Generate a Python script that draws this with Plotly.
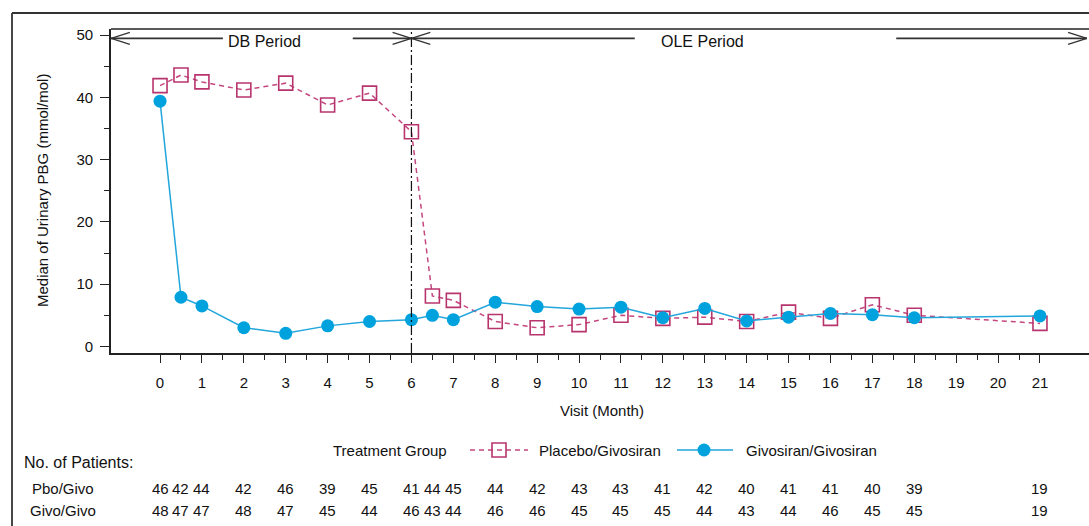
import plotly.graph_objects as go

# ---------------- data ----------------
visits = [0, 0.5, 1, 2, 3, 4, 5, 6, 6.5, 7, 8, 9, 10, 11, 12, 13, 14, 15, 16, 17, 18, 21]
placebo_median = [41.9, 43.6, 42.5, 41.2, 42.3, 38.8, 40.7, 34.5, 8.1, 7.4, 4.0, 3.0, 3.5,
                  5.0, 4.5, 4.7, 4.0, 5.5, 4.5, 6.7, 5.0, 3.7]
givo_median = [39.4, 7.9, 6.5, 3.0, 2.1, 3.3, 4.0, 4.3, 5.0, 4.3, 7.1, 6.4, 6.0, 6.3,
               4.6, 6.1, 4.1, 4.7, 5.3, 5.1, 4.6, 4.9]
pbo_n = [46, 42, 44, 42, 46, 39, 45, 41, 44, 45, 44, 42, 43, 43, 41, 42, 40, 41, 41, 40, 39, 19]
givo_n = [48, 47, 47, 48, 47, 45, 44, 46, 43, 44, 46, 46, 45, 45, 45, 44, 43, 44, 46, 45, 45, 19]
x_tick_vals = list(range(0, 22))
y_tick_vals = [0, 10, 20, 30, 40, 50]
series_names = ["Placebo/Givosiran", "Givosiran/Givosiran"]
row_labels = ["Pbo/Givo", "Givo/Givo"]

# ---------------- styles ----------------
FONT = "Liberation Sans, Arial, sans-serif"
FS = 15
PINK = "#B8346D"
PINK_LINE = "#C4477F"
BLUE = "#00A2DE"
BLUE_LINE = "#22A6DC"
AX = "#222222"
TXT = "#111111"

W, H = 1089, 526
ML, MR, MT, MB = 111, 0, 29, 173
PW = W - ML - MR
PH = H - MT - MB


def px_x(p):
    return (p - ML) / PW


def px_y(p):
    return (H - MB - p) / PH


def txt(text, x, y, xref="paper", yref="paper", xanchor="center", size=FS, angle=0):
    return dict(text=text, x=x, y=y, xref=xref, yref=yref, xanchor=xanchor, yanchor="middle",
                showarrow=False, textangle=angle, font=dict(size=size, color=TXT, family=FONT))


XR = [-1.17, 22.17]
YR = [-1.06, 51.0]

fig = go.Figure()
fig.add_trace(go.Scatter(
    x=visits, y=placebo_median, name=series_names[0], mode="lines+markers",
    line=dict(color=PINK_LINE, width=1.5, dash="5px,4px"),
    marker=dict(symbol="square-open", size=14, color=PINK, line=dict(width=1.6, color=PINK)),
    showlegend=False, cliponaxis=False))
fig.add_trace(go.Scatter(
    x=visits, y=givo_median, name=series_names[1], mode="lines+markers",
    line=dict(color=BLUE_LINE, width=1.5),
    marker=dict(symbol="circle", size=13, color=BLUE),
    showlegend=False, cliponaxis=False))

shapes = []
# vertical separator at month 6
shapes.append(dict(type="line", xref="x", yref="y", x0=6, x1=6, y0=YR[0], y1=YR[1],
                   line=dict(color="#111", width=1.2, dash="10px,3px,2px,3px")))

# period arrows
PY = 49.5
AL, AH = 0.45, 0.96
left_edge, right_tip = XR[0], 22.12
segs = [
    (left_edge, 1.5), (4.6, 6.0),        # DB period
    (6.0, 11.33), (17.57, right_tip),    # OLE period
]
for a, b in segs:
    shapes.append(dict(type="line", xref="x", yref="y", x0=a, x1=b, y0=PY, y1=PY,
                       line=dict(color="#333", width=1.6)))
for tip, d in [(left_edge, -1), (6.0, 1), (6.0, -1), (right_tip, 1)]:
    for s in (1, -1):
        shapes.append(dict(type="line", xref="x", yref="y", x0=tip, y0=PY,
                           x1=tip - d * AL, y1=PY + s * AH,
                           line=dict(color="#333", width=1.3)))

# top border of plot
shapes.append(dict(type="line", xref="paper", yref="paper", x0=0, x1=1.02, y0=1, y1=1,
                   line=dict(color=AX, width=1.6)))
# outer frame (left + top)
shapes.append(dict(type="line", xref="paper", yref="paper", x0=px_x(12), x1=px_x(12),
                   y0=px_y(13), y1=px_y(560), line=dict(color="#333", width=1.8)))
shapes.append(dict(type="line", xref="paper", yref="paper", x0=px_x(12), x1=px_x(1100),
                   y0=px_y(13), y1=px_y(13), line=dict(color="#333", width=1.8)))

# legend symbols
LY = px_y(450)
shapes.append(dict(type="line", xref="paper", yref="paper", x0=px_x(470), x1=px_x(528),
                   y0=LY, y1=LY, line=dict(color=PINK_LINE, width=1.5, dash="5px,4px")))
shapes.append(dict(type="rect", xref="paper", yref="paper", xsizemode="pixel", ysizemode="pixel",
                   xanchor=px_x(499), yanchor=LY, x0=-7, x1=7, y0=-7, y1=7,
                   line=dict(color=PINK, width=1.6), fillcolor="rgba(0,0,0,0)"))
shapes.append(dict(type="line", xref="paper", yref="paper", x0=px_x(677), x1=px_x(733),
                   y0=LY, y1=LY, line=dict(color=BLUE_LINE, width=1.5)))
shapes.append(dict(type="circle", xref="paper", yref="paper", xsizemode="pixel", ysizemode="pixel",
                   xanchor=px_x(704), yanchor=LY, x0=-6.5, x1=6.5, y0=-6.5, y1=6.5,
                   line=dict(color=BLUE, width=0), fillcolor=BLUE))

ann = []
ann.append(txt("DB Period", 2.5, 49.0, xref="x", yref="y", size=16))
ann.append(txt("OLE Period", 12.95, 49.0, xref="x", yref="y", size=16))
ann.append(txt("Median of Urinary PBG (mmol/mol)", px_x(42), 0.5, angle=-90))
ann.append(txt("Visit (Month)", px_x(602), px_y(411)))
ann.append(txt("Treatment Group", px_x(331), LY, xanchor="left"))
ann.append(txt(series_names[0], px_x(537), LY, xanchor="left"))
ann.append(txt(series_names[1], px_x(744), LY, xanchor="left"))
ann.append(txt("No. of Patients:", px_x(22), px_y(462), xanchor="left", size=FS + 1))
for lab, xp, yp, counts in [(row_labels[0], 30, 488, pbo_n), (row_labels[1], 28, 510, givo_n)]:
    ann.append(txt(lab, px_x(xp), px_y(yp), xanchor="left"))
    for v, n in zip(visits, counts):
        ann.append(txt(str(n), v, px_y(yp), xref="x"))

fig.update_layout(
    width=W, height=H,
    margin=dict(l=ML, r=MR, t=MT, b=MB, pad=0),
    paper_bgcolor="white", plot_bgcolor="white",
    shapes=shapes, annotations=ann, showlegend=False,
    xaxis=dict(range=XR, showgrid=False, zeroline=False, showline=True, linecolor=AX,
               linewidth=1.6, ticks="outside", ticklen=8, tickwidth=1.3, tickcolor=AX,
               tickmode="array", tickvals=x_tick_vals, ticktext=[str(v) for v in x_tick_vals],
               ticklabelstandoff=7,
               tickfont=dict(size=FS, color=TXT, family=FONT),
               minor=dict(tickmode="array", tickvals=[v + 0.5 for v in x_tick_vals[:-1]],
                          ticks="outside", ticklen=5, tickwidth=1.3, tickcolor=AX)),
    yaxis=dict(range=YR, showgrid=False, zeroline=False, showline=True, linecolor=AX,
               linewidth=1.6, ticks="outside", ticklen=9, tickwidth=1.3, tickcolor=AX,
               tickmode="array", tickvals=y_tick_vals, ticklabelstandoff=4,
               tickfont=dict(size=FS, color=TXT, family=FONT),
               minor=dict(tickmode="array", tickvals=[v + 5 for v in y_tick_vals[:-1]],
                          ticks="outside", ticklen=5, tickwidth=1.3, tickcolor=AX)),
)

fig.write_html("out.html")
